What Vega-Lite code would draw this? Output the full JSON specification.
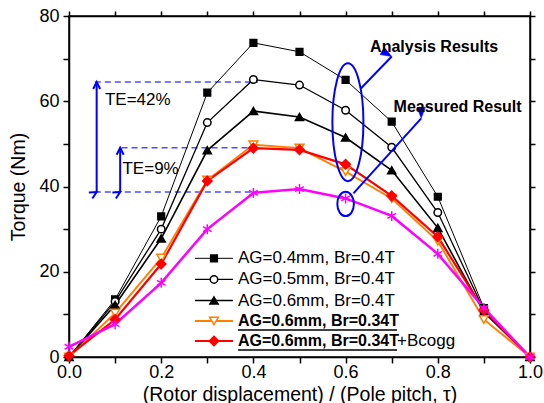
{
  "$schema": "https://vega.github.io/schema/vega-lite/v6.json",
  "width": 461,
  "height": 341,
  "autosize": {"type": "none"},
  "padding": {"left": 69, "top": 16, "right": 14, "bottom": 46},
  "background": "white",
  "config": {
    "font": "Liberation Sans",
    "view": {"stroke": "black", "strokeWidth": 1.5},
    "axis": {
      "domainColor": "black", "domainWidth": 1.5, "tickColor": "black", "tickWidth": 1.5,
      "labelColor": "black", "labelFont": "Liberation Sans", "labelFontSize": 18,
      "titleColor": "black", "titleFont": "Liberation Sans", "titleFontSize": 19.5, "titleFontWeight": "normal",
      "grid": false, "labelFlush": false, "labelOverlap": false
    }
  },
  "datasets": {
    "curves": [
      {"pitch": 0.0, "torque": 0.0, "series": "AG=0.4mm, Br=0.4T"},
      {"pitch": 0.1, "torque": 13.5, "series": "AG=0.4mm, Br=0.4T"},
      {"pitch": 0.2, "torque": 33.0, "series": "AG=0.4mm, Br=0.4T"},
      {"pitch": 0.3, "torque": 62.0, "series": "AG=0.4mm, Br=0.4T"},
      {"pitch": 0.4, "torque": 73.7, "series": "AG=0.4mm, Br=0.4T"},
      {"pitch": 0.5, "torque": 71.6, "series": "AG=0.4mm, Br=0.4T"},
      {"pitch": 0.6, "torque": 65.0, "series": "AG=0.4mm, Br=0.4T"},
      {"pitch": 0.7, "torque": 55.2, "series": "AG=0.4mm, Br=0.4T"},
      {"pitch": 0.8, "torque": 37.6, "series": "AG=0.4mm, Br=0.4T"},
      {"pitch": 0.9, "torque": 11.5, "series": "AG=0.4mm, Br=0.4T"},
      {"pitch": 1.0, "torque": 0.0, "series": "AG=0.4mm, Br=0.4T"},
      {"pitch": 0.0, "torque": 0.0, "series": "AG=0.5mm, Br=0.4T"},
      {"pitch": 0.1, "torque": 13.0, "series": "AG=0.5mm, Br=0.4T"},
      {"pitch": 0.2, "torque": 30.0, "series": "AG=0.5mm, Br=0.4T"},
      {"pitch": 0.3, "torque": 55.0, "series": "AG=0.5mm, Br=0.4T"},
      {"pitch": 0.4, "torque": 65.1, "series": "AG=0.5mm, Br=0.4T"},
      {"pitch": 0.5, "torque": 63.8, "series": "AG=0.5mm, Br=0.4T"},
      {"pitch": 0.6, "torque": 57.9, "series": "AG=0.5mm, Br=0.4T"},
      {"pitch": 0.7, "torque": 49.2, "series": "AG=0.5mm, Br=0.4T"},
      {"pitch": 0.8, "torque": 33.9, "series": "AG=0.5mm, Br=0.4T"},
      {"pitch": 0.9, "torque": 11.0, "series": "AG=0.5mm, Br=0.4T"},
      {"pitch": 1.0, "torque": 0.0, "series": "AG=0.5mm, Br=0.4T"},
      {"pitch": 0.0, "torque": 0.0, "series": "AG=0.6mm, Br=0.4T"},
      {"pitch": 0.1, "torque": 12.2, "series": "AG=0.6mm, Br=0.4T"},
      {"pitch": 0.2, "torque": 27.8, "series": "AG=0.6mm, Br=0.4T"},
      {"pitch": 0.3, "torque": 48.5, "series": "AG=0.6mm, Br=0.4T"},
      {"pitch": 0.4, "torque": 57.7, "series": "AG=0.6mm, Br=0.4T"},
      {"pitch": 0.5, "torque": 56.3, "series": "AG=0.6mm, Br=0.4T"},
      {"pitch": 0.6, "torque": 51.5, "series": "AG=0.6mm, Br=0.4T"},
      {"pitch": 0.7, "torque": 43.8, "series": "AG=0.6mm, Br=0.4T"},
      {"pitch": 0.8, "torque": 30.3, "series": "AG=0.6mm, Br=0.4T"},
      {"pitch": 0.9, "torque": 10.5, "series": "AG=0.6mm, Br=0.4T"},
      {"pitch": 1.0, "torque": 0.0, "series": "AG=0.6mm, Br=0.4T"},
      {"pitch": 0.0, "torque": 0.0, "series": "AG=0.6mm, Br=0.34T"},
      {"pitch": 0.1, "torque": 10.3, "series": "AG=0.6mm, Br=0.34T"},
      {"pitch": 0.2, "torque": 23.2, "series": "AG=0.6mm, Br=0.34T"},
      {"pitch": 0.3, "torque": 41.5, "series": "AG=0.6mm, Br=0.34T"},
      {"pitch": 0.4, "torque": 49.8, "series": "AG=0.6mm, Br=0.34T"},
      {"pitch": 0.5, "torque": 49.0, "series": "AG=0.6mm, Br=0.34T"},
      {"pitch": 0.6, "torque": 43.5, "series": "AG=0.6mm, Br=0.34T"},
      {"pitch": 0.7, "torque": 37.2, "series": "AG=0.6mm, Br=0.34T"},
      {"pitch": 0.8, "torque": 27.2, "series": "AG=0.6mm, Br=0.34T"},
      {"pitch": 0.9, "torque": 8.8, "series": "AG=0.6mm, Br=0.34T"},
      {"pitch": 1.0, "torque": 0.0, "series": "AG=0.6mm, Br=0.34T"},
      {"pitch": 0.0, "torque": 0.3, "series": "AG=0.6mm, Br=0.34T+Bcogg"},
      {"pitch": 0.1, "torque": 8.8, "series": "AG=0.6mm, Br=0.34T+Bcogg"},
      {"pitch": 0.2, "torque": 21.8, "series": "AG=0.6mm, Br=0.34T+Bcogg"},
      {"pitch": 0.3, "torque": 41.3, "series": "AG=0.6mm, Br=0.34T+Bcogg"},
      {"pitch": 0.4, "torque": 49.0, "series": "AG=0.6mm, Br=0.34T+Bcogg"},
      {"pitch": 0.5, "torque": 48.6, "series": "AG=0.6mm, Br=0.34T+Bcogg"},
      {"pitch": 0.6, "torque": 45.2, "series": "AG=0.6mm, Br=0.34T+Bcogg"},
      {"pitch": 0.7, "torque": 37.8, "series": "AG=0.6mm, Br=0.34T+Bcogg"},
      {"pitch": 0.8, "torque": 28.2, "series": "AG=0.6mm, Br=0.34T+Bcogg"},
      {"pitch": 0.9, "torque": 11.0, "series": "AG=0.6mm, Br=0.34T+Bcogg"},
      {"pitch": 1.0, "torque": 0.0, "series": "AG=0.6mm, Br=0.34T+Bcogg"},
      {"pitch": 0.0, "torque": 2.4, "series": "Measured"},
      {"pitch": 0.1, "torque": 7.7, "series": "Measured"},
      {"pitch": 0.2, "torque": 17.4, "series": "Measured"},
      {"pitch": 0.3, "torque": 30.0, "series": "Measured"},
      {"pitch": 0.4, "torque": 38.5, "series": "Measured"},
      {"pitch": 0.5, "torque": 39.4, "series": "Measured"},
      {"pitch": 0.6, "torque": 37.2, "series": "Measured"},
      {"pitch": 0.7, "torque": 33.1, "series": "Measured"},
      {"pitch": 0.8, "torque": 24.2, "series": "Measured"},
      {"pitch": 0.9, "torque": 11.5, "series": "Measured"},
      {"pitch": 1.0, "torque": 0.0, "series": "Measured"}
    ],
    "key": [
      {"series": "AG=0.4mm, Br=0.4T", "ly": 23.15, "label": "AG=0.4mm, Br=0.4T"},
      {"series": "AG=0.5mm, Br=0.4T", "ly": 18.2, "label": "AG=0.5mm, Br=0.4T"},
      {"series": "AG=0.6mm, Br=0.4T", "ly": 13.25, "label": "AG=0.6mm, Br=0.4T"},
      {"series": "AG=0.6mm, Br=0.34T", "ly": 8.45, "label": "AG=0.6mm, Br=0.34T"},
      {"series": "AG=0.6mm, Br=0.34T+Bcogg", "ly": 3.75, "label": "AG=0.6mm, Br=0.34T", "suffix": "+Bcogg"}
    ],
    "dash": [
      {"x0": 0.056, "x1": 0.41, "y": 64.5},
      {"x0": 0.114, "x1": 0.41, "y": 49.1},
      {"x0": 0.056, "x1": 0.41, "y": 38.7}
    ],
    "vspans": [
      {"x": 0.060, "y0": 38.7, "y1": 64.5},
      {"x": 0.111, "y0": 38.7, "y1": 49.1}
    ],
    "vheads": [
      {"x": 0.060, "y": 64.5, "dir": "up"},
      {"x": 0.060, "y": 38.7, "dir": "down"},
      {"x": 0.111, "y": 49.1, "dir": "up"},
      {"x": 0.111, "y": 38.7, "dir": "down"}
    ],
    "te": [
      {"x": 0.078, "y": 60.4, "label": "TE=42%"},
      {"x": 0.116, "y": 44.0, "label": "TE=9%"}
    ],
    "bigell": [{"x": 0.605, "y": 55.1}],
    "smallell": [{"x": 0.600, "y": 35.9}],
    "darrows": [
      {"arrow": "analysis", "x0": 0.633, "y0": 63.0, "x1": 0.700, "y1": 70.5},
      {"arrow": "measured", "x0": 0.617, "y0": 38.4, "x1": 0.764, "y1": 56.0}
    ],
    "notes": [
      {"x": 0.792, "y": 72.8, "label": "Analysis Results"},
      {"x": 0.843, "y": 58.7, "label": "Measured Result"}
    ]
  },
  "layer": [
    {
      "data": {"name": "dash"},
      "mark": {"type": "rule", "color": "#4d4dff", "strokeWidth": 1.5, "strokeDash": [6, 4]},
      "encoding": {
        "x": {"field": "x0", "type": "quantitative", "axis": null},
        "x2": {"field": "x1"},
        "y": {"field": "y", "type": "quantitative", "axis": null}
      }
    },
    {
      "data": {"name": "vspans"},
      "mark": {"type": "rule", "color": "#0000ff", "strokeWidth": 2},
      "encoding": {
        "x": {"field": "x", "type": "quantitative", "axis": null},
        "y": {"field": "y0", "type": "quantitative", "axis": null},
        "y2": {"field": "y1"}
      }
    },
    {
      "data": {"name": "vheads"},
      "mark": {"type": "point", "filled": false, "stroke": "#0000ff", "strokeWidth": 2, "opacity": 1, "size": 196, "shape": "M -0.5 1 L 0 0 L 0.5 1"},
      "encoding": {
        "x": {"field": "x", "type": "quantitative", "axis": null},
        "y": {"field": "y", "type": "quantitative", "axis": null},
        "angle": {"field": "dir", "type": "nominal", "scale": {"domain": ["up", "down"], "range": [0, 180]}, "legend": null}
      }
    },
    {
      "data": {"name": "te"},
      "mark": {"type": "text", "align": "left", "baseline": "middle", "fontSize": 17, "font": "Liberation Sans", "color": "black"},
      "encoding": {
        "x": {"field": "x", "type": "quantitative", "axis": null},
        "y": {"field": "y", "type": "quantitative", "axis": null},
        "text": {"field": "label"}
      }
    },
    {
      "data": {"name": "curves"},
      "mark": {"type": "line"},
      "encoding": {
        "x": {
          "field": "pitch", "type": "quantitative",
          "scale": {"domain": [0, 1], "nice": false},
          "title": "(Rotor displacement) / (Pole pitch, τ)",
          "axis": {
            "orient": "bottom",
            "values": [0, 0.1, 0.2, 0.3, 0.4, 0.5, 0.6, 0.7, 0.8, 0.9, 1.0],
            "labelExpr": "round(datum.value*10) % 2 === 0 ? format(datum.value, '.1f') : ''",
            "tickSize": 6, "labelPadding": 0, "titlePadding": 4,
            "encode": {"ticks": {"update": {"y2": {"signal": "round(datum.value*10) % 2 === 0 ? 6 : 3"}}}}
          }
        },
        "y": {
          "field": "torque", "type": "quantitative",
          "scale": {"domain": [0, 80], "nice": false},
          "title": "Torque (Nm)",
          "axis": {
            "orient": "left",
            "values": [0, 10, 20, 30, 40, 50, 60, 70, 80],
            "labelExpr": "datum.value % 20 === 0 ? datum.value : ''",
            "tickSize": 6, "labelPadding": 4, "titlePadding": 10,
            "encode": {"ticks": {"update": {"x2": {"signal": "datum.value % 20 === 0 ? -6 : -3"}}}}
          }
        },
        "color": {
          "field": "series", "type": "nominal",
          "scale": {
            "domain": ["AG=0.4mm, Br=0.4T", "AG=0.5mm, Br=0.4T", "AG=0.6mm, Br=0.4T", "AG=0.6mm, Br=0.34T", "AG=0.6mm, Br=0.34T+Bcogg", "Measured"],
            "range": ["black", "black", "black", "#ff8000", "#ff0000", "#ff00ff"]
          },
          "legend": null
        },
        "strokeWidth": {
          "field": "series", "type": "nominal",
          "scale": {
            "domain": ["AG=0.4mm, Br=0.4T", "AG=0.5mm, Br=0.4T", "AG=0.6mm, Br=0.4T", "AG=0.6mm, Br=0.34T", "AG=0.6mm, Br=0.34T+Bcogg", "Measured"],
            "range": [1, 2.5, 2.5, 2.5, 3.5, 2]
          },
          "legend": null
        }
      }
    },
    {
      "data": {"name": "curves"},
      "mark": {"type": "point", "filled": true, "strokeWidth": 1.5, "opacity": 1},
      "encoding": {
        "x": {
          "field": "pitch", "type": "quantitative",
          "axis": {
            "orient": "top", "title": null, "labels": false,
            "values": [0, 0.1, 0.2, 0.3, 0.4, 0.5, 0.6, 0.7, 0.8, 0.9, 1.0],
            "tickSize": 5,
            "encode": {"ticks": {"update": {"y2": {"signal": "round(datum.value*10) % 2 === 0 ? 6 : 3"}}}}
          }
        },
        "y": {
          "field": "torque", "type": "quantitative",
          "axis": {
            "orient": "right", "title": null, "labels": false,
            "values": [0, 10, 20, 30, 40, 50, 60, 70, 80],
            "tickSize": 5,
            "encode": {"ticks": {"update": {"x2": {"signal": "datum.value % 20 === 0 ? -6 : -3"}}}}
          }
        },
        "shape": {
          "field": "series", "type": "nominal",
          "scale": {
            "domain": ["AG=0.4mm, Br=0.4T", "AG=0.5mm, Br=0.4T", "AG=0.6mm, Br=0.4T", "AG=0.6mm, Br=0.34T", "AG=0.6mm, Br=0.34T+Bcogg", "Measured"],
            "range": ["square", "circle", "triangle-up", "triangle-down", "diamond", "M 0 -1 L 0 1 M -0.87 -0.5 L 0.87 0.5 M -0.87 0.5 L 0.87 -0.5"]
          },
          "legend": null
        },
        "fill": {
          "field": "series", "type": "nominal",
          "scale": {
            "domain": ["AG=0.4mm, Br=0.4T", "AG=0.5mm, Br=0.4T", "AG=0.6mm, Br=0.4T", "AG=0.6mm, Br=0.34T", "AG=0.6mm, Br=0.34T+Bcogg", "Measured"],
            "range": ["black", "white", "black", "white", "#ff0000", "transparent"]
          },
          "legend": null
        },
        "stroke": {
          "field": "series", "type": "nominal",
          "scale": {
            "domain": ["AG=0.4mm, Br=0.4T", "AG=0.5mm, Br=0.4T", "AG=0.6mm, Br=0.4T", "AG=0.6mm, Br=0.34T", "AG=0.6mm, Br=0.34T+Bcogg", "Measured"],
            "range": ["black", "black", "black", "#ff8000", "#ff0000", "#ff00ff"]
          },
          "legend": null
        },
        "size": {
          "field": "series", "type": "nominal",
          "scale": {
            "domain": ["AG=0.4mm, Br=0.4T", "AG=0.5mm, Br=0.4T", "AG=0.6mm, Br=0.4T", "AG=0.6mm, Br=0.34T", "AG=0.6mm, Br=0.34T+Bcogg", "Measured"],
            "range": [45, 100, 100, 100, 170, 150]
          },
          "legend": null
        }
      }
    },
    {
      "data": {"name": "key"},
      "mark": {"type": "rule"},
      "encoding": {
        "x": {"datum": 0.2733, "type": "quantitative", "axis": null},
        "x2": {"datum": 0.3557},
        "y": {"field": "ly", "type": "quantitative", "axis": null},
        "color": {"field": "series", "type": "nominal", "legend": null},
        "strokeWidth": {"field": "series", "type": "nominal", "legend": null}
      }
    },
    {
      "data": {"name": "key"},
      "mark": {"type": "point", "filled": true, "strokeWidth": 1.5, "opacity": 1},
      "encoding": {
        "x": {"datum": 0.3145, "type": "quantitative", "axis": null},
        "y": {"field": "ly", "type": "quantitative", "axis": null},
        "shape": {"field": "series", "type": "nominal", "legend": null},
        "fill": {"field": "series", "type": "nominal", "legend": null},
        "stroke": {"field": "series", "type": "nominal", "legend": null},
        "size": {"field": "series", "type": "nominal", "legend": null}
      }
    },
    {
      "data": {"name": "key"},
      "transform": [{"filter": {"field": "series", "oneOf": ["AG=0.4mm, Br=0.4T", "AG=0.5mm, Br=0.4T", "AG=0.6mm, Br=0.4T"]}}],
      "mark": {"type": "text", "align": "left", "baseline": "middle", "fontSize": 17, "font": "Liberation Sans", "color": "black"},
      "encoding": {
        "x": {"datum": 0.3666, "type": "quantitative", "axis": null},
        "y": {"field": "ly", "type": "quantitative", "axis": null},
        "text": {"field": "label"}
      }
    },
    {
      "data": {"name": "key"},
      "transform": [{"filter": {"field": "series", "oneOf": ["AG=0.6mm, Br=0.34T", "AG=0.6mm, Br=0.34T+Bcogg"]}}],
      "mark": {"type": "text", "align": "left", "baseline": "middle", "fontSize": 16, "fontWeight": "bold", "font": "Liberation Sans", "color": "black"},
      "encoding": {
        "x": {"datum": 0.3666, "type": "quantitative", "axis": null},
        "y": {"field": "ly", "type": "quantitative", "axis": null},
        "text": {"field": "label"}
      }
    },
    {
      "data": {"name": "key"},
      "transform": [{"filter": {"field": "series", "oneOf": ["AG=0.6mm, Br=0.34T", "AG=0.6mm, Br=0.34T+Bcogg"]}}],
      "mark": {"type": "rule", "color": "black", "strokeWidth": 1.5, "yOffset": 9},
      "encoding": {
        "x": {"datum": 0.3666, "type": "quantitative", "axis": null},
        "x2": {"datum": 0.7115},
        "y": {"field": "ly", "type": "quantitative", "axis": null}
      }
    },
    {
      "data": {"name": "key"},
      "transform": [{"filter": "isValid(datum.suffix)"}],
      "mark": {"type": "text", "align": "left", "baseline": "middle", "fontSize": 17, "font": "Liberation Sans", "color": "black"},
      "encoding": {
        "x": {"datum": 0.7115, "type": "quantitative", "axis": null},
        "y": {"field": "ly", "type": "quantitative", "axis": null},
        "text": {"field": "suffix"}
      }
    },
    {
      "data": {"name": "bigell"},
      "mark": {"type": "point", "filled": false, "stroke": "#0000ff", "strokeWidth": 2, "opacity": 1, "size": 13924,
        "shape": "M 0 -1 C 0.1453 -1 0.263 -0.5523 0.263 0 C 0.263 0.5523 0.1453 1 0 1 C -0.1453 1 -0.263 0.5523 -0.263 0 C -0.263 -0.5523 -0.1453 -1 0 -1 Z"},
      "encoding": {
        "x": {"field": "x", "type": "quantitative", "axis": null},
        "y": {"field": "y", "type": "quantitative", "axis": null}
      }
    },
    {
      "data": {"name": "smallell"},
      "mark": {"type": "point", "filled": false, "stroke": "#0000ff", "strokeWidth": 2, "opacity": 1, "size": 590,
        "shape": "M 0 -1 C 0.377 -1 0.683 -0.5523 0.683 0 C 0.683 0.5523 0.377 1 0 1 C -0.377 1 -0.683 0.5523 -0.683 0 C -0.683 -0.5523 -0.377 -1 0 -1 Z"},
      "encoding": {
        "x": {"field": "x", "type": "quantitative", "axis": null},
        "y": {"field": "y", "type": "quantitative", "axis": null}
      }
    },
    {
      "data": {"name": "darrows"},
      "mark": {"type": "rule", "color": "#0000ff", "strokeWidth": 2},
      "encoding": {
        "x": {"field": "x0", "type": "quantitative", "axis": null},
        "y": {"field": "y0", "type": "quantitative", "axis": null},
        "x2": {"field": "x1"},
        "y2": {"field": "y1"}
      }
    },
    {
      "data": {"name": "darrows"},
      "mark": {"type": "point", "filled": true, "fill": "#0000ff", "stroke": "#0000ff", "strokeWidth": 0.5, "opacity": 1, "size": 484, "shape": "M 0 0 L 0.38 1 L -0.38 1 Z"},
      "encoding": {
        "x": {"field": "x1", "type": "quantitative", "axis": null},
        "y": {"field": "y1", "type": "quantitative", "axis": null},
        "angle": {"field": "arrow", "type": "nominal", "scale": {"domain": ["analysis", "measured"], "range": [44, 42]}, "legend": null}
      }
    },
    {
      "data": {"name": "notes"},
      "mark": {"type": "text", "align": "center", "baseline": "middle", "fontSize": 16, "fontWeight": "bold", "font": "Liberation Sans", "color": "black"},
      "encoding": {
        "x": {"field": "x", "type": "quantitative", "axis": null},
        "y": {"field": "y", "type": "quantitative", "axis": null},
        "text": {"field": "label"}
      }
    }
  ],
  "resolve": {"axis": {"x": "independent", "y": "independent"}}
}
